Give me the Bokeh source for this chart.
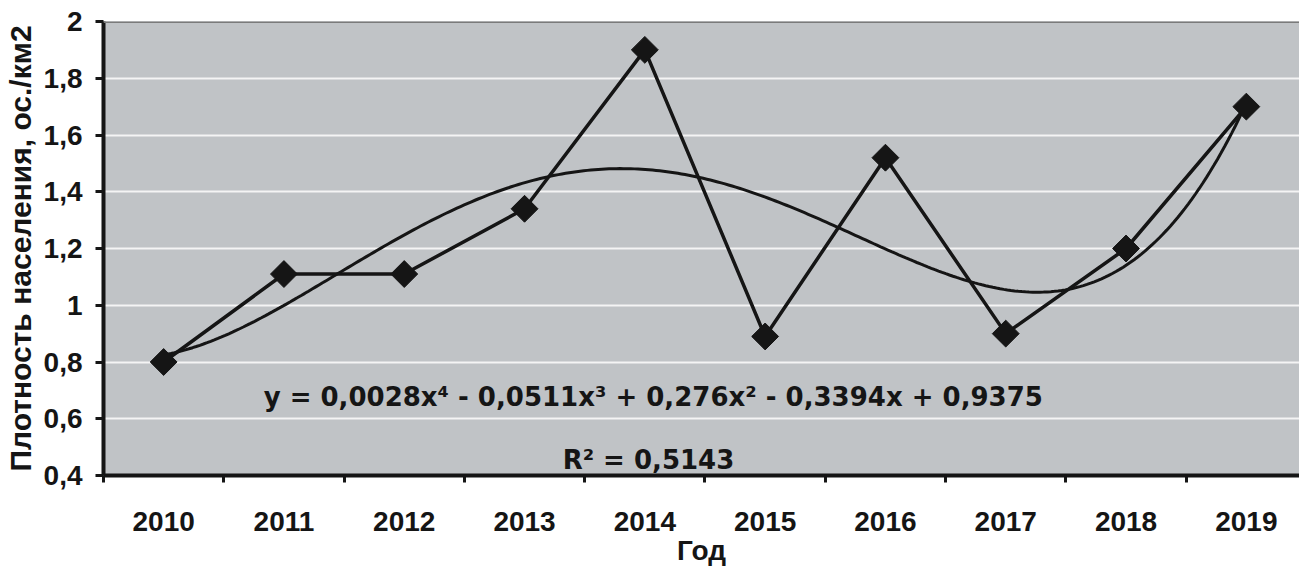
import numpy as np
from bokeh.plotting import figure
from bokeh.models import Range1d, FixedTicker, Label, Span
from bokeh.embed import file_html
from bokeh.resources import INLINE

# ---- data ----
years = ["2010", "2011", "2012", "2013", "2014", "2015", "2016", "2017", "2018", "2019"]
density = [0.80, 1.11, 1.11, 1.34, 1.90, 0.89, 1.52, 0.90, 1.20, 1.70]
y_ticks = [0.4, 0.6, 0.8, 1.0, 1.2, 1.4, 1.6, 1.8, 2.0]
y_tick_labels = ["0,4", "0,6", "0,8", "1", "1,2", "1,4", "1,6", "1,8", "2"]
equation_text = "y = 0,0028x\u2074 - 0,0511x\u00b3 + 0,276x\u00b2 - 0,3394x + 0,9375"
r2_text = "R\u00b2 = 0,5143"
x_title = "Год"
y_title = "Плотность населения, ос./км2"

# positions of categories (1..n) and 4th-degree polynomial trend fitted to the data
xpos = list(range(1, len(years) + 1))
coef = np.polyfit(xpos, density, 4)
trend_x = np.linspace(1, len(years), 300)
trend_y = np.polyval(coef, trend_x)

INK = "#151515"
FONT = "Liberation Sans"

p = figure(frame_width=1196, frame_height=454,
           x_range=Range1d(0.5, 10.442), y_range=Range1d(0.4, 2.0),
           output_backend="svg", toolbar_location=None,
           min_border_left=97, min_border_right=0, min_border_top=21, min_border_bottom=60,
           background_fill_color="#c0c3c6", border_fill_color="white",
           outline_line_color=None)

# trend line and data line
p.line(trend_x, trend_y, line_color=INK, line_width=3)
p.line(xpos, density, line_color=INK, line_width=3.5)
p.scatter(xpos, density, marker="square", size=19, angle=np.pi / 4,
          fill_color=INK, line_color=INK)

# top border line of the plot area
p.add_layout(Span(location=2.0, dimension="width", line_color="#7a7a7a", line_width=3))

# grid
p.xgrid.grid_line_color = None
p.ygrid.ticker = FixedTicker(ticks=y_ticks)
p.ygrid.grid_line_color = "#f4f4f4"
p.ygrid.grid_line_width = 2

# x axis
xa = p.xaxis[0]
xa.ticker = FixedTicker(ticks=xpos, minor_ticks=[v - 0.5 for v in xpos] + [len(years) + 0.5])
xa.major_label_overrides = {v: lab for v, lab in zip(xpos, years)}
xa.major_tick_out = 0
xa.major_tick_in = 0
xa.minor_tick_out = 7
xa.minor_tick_in = 0
xa.minor_tick_line_width = 3
xa.minor_tick_line_color = INK
xa.axis_line_color = INK
xa.axis_line_width = 4
xa.major_label_standoff = 29
xa.major_label_text_font = FONT
xa.major_label_text_font_style = "bold"
xa.major_label_text_font_size = "28px"
xa.major_label_text_color = INK
xa.axis_label = x_title
xa.axis_label_text_font = FONT
xa.axis_label_text_font_style = "bold"
xa.axis_label_text_font_size = "28px"
xa.axis_label_text_color = INK
xa.axis_label_standoff = 1

# y axis
ya = p.yaxis[0]
ya.ticker = FixedTicker(ticks=y_ticks, minor_ticks=[])
ya.major_label_overrides = {v: lab for v, lab in zip(y_ticks, y_tick_labels)}
ya.major_tick_out = 8
ya.major_tick_in = 0
ya.major_tick_line_width = 3
ya.major_tick_line_color = INK
ya.axis_line_color = INK
ya.axis_line_width = 4
ya.major_label_standoff = 13
ya.major_label_text_font = FONT
ya.major_label_text_font_style = "bold"
ya.major_label_text_font_size = "28px"
ya.major_label_text_color = INK
ya.axis_label = y_title
ya.axis_label_text_font = FONT
ya.axis_label_text_font_style = "bold"
ya.axis_label_text_font_size = "30px"
ya.axis_label_text_color = INK
ya.axis_label_standoff = 4

# trend equation labels
p.add_layout(Label(x=5.07, y=0.675, text=equation_text, text_align="center",
                   text_baseline="alphabetic", text_font="DejaVu Sans",
                   text_font_style="bold", text_font_size="26px", text_color=INK))
p.add_layout(Label(x=5.03, y=0.456, text=r2_text, text_align="center",
                   text_baseline="alphabetic", text_font="DejaVu Sans",
                   text_font_style="bold", text_font_size="26px", text_color=INK))

open("out.html", "w").write(file_html(p, INLINE))
